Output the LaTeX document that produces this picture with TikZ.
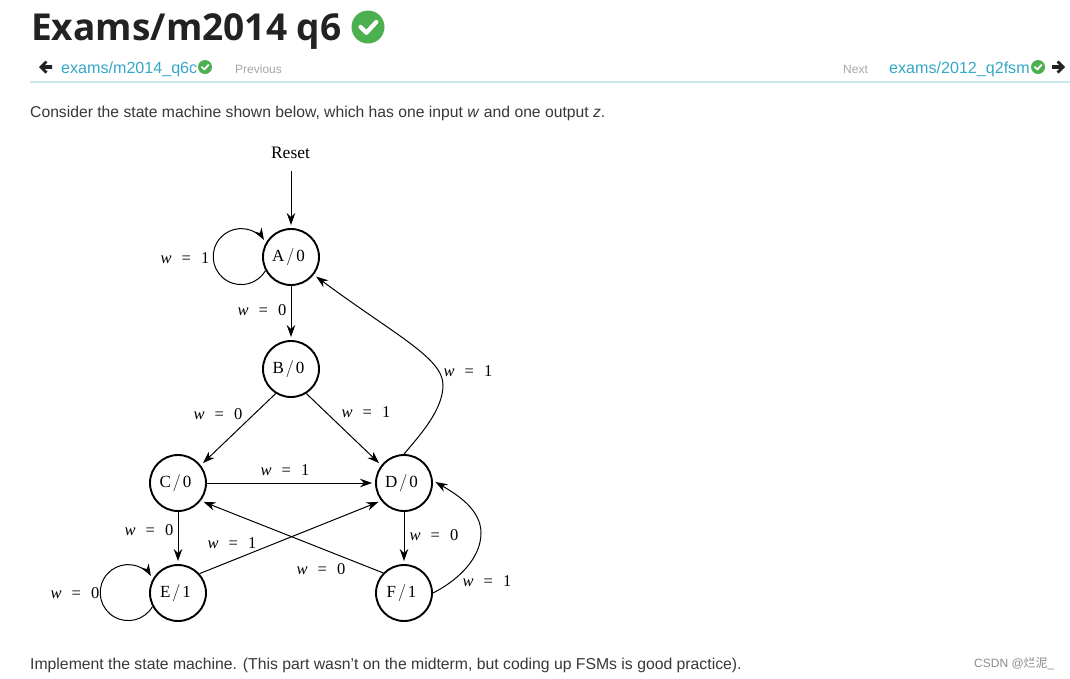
\documentclass[tikz,border=0pt]{standalone}
\usepackage{fontspec}
\usepackage{tikz}
\usetikzlibrary{arrows.meta}
\setmainfont{Liberation Sans}
\newfontfamily\titlefont{Open Sans}
\newfontfamily\figfont{Liberation Serif}
\newfontfamily\cjkfont{Noto Sans CJK SC}
\definecolor{linkblue}{HTML}{35A7C9}
\definecolor{okgreen}{HTML}{4CAF50}
\definecolor{ruleblue}{HTML}{C5E8F0}
\definecolor{inkdark}{HTML}{222222}
\newcommand{\wlab}[1]{\textit{w}\hspace{10pt}=\hspace{10pt}#1}
\begin{document}
\begin{tikzpicture}[x=1pt,y=-1pt,
    state/.style={circle,draw=black,line width=1.9pt,minimum size=56pt,inner sep=0pt,font=\figfont\fontsize{17}{18}\selectfont},
    lbl/.style={inner sep=0pt,font=\figfont\fontsize{16.5}{18}\selectfont},
    edge/.style={draw=black,line width=1pt,-{Stealth[length=12pt,width=8.5pt]},shorten >=3pt},
    body/.style={anchor=base west,inner sep=0pt,font=\fontsize{15.7}{18}\selectfont,text=inkdark!90},
    nav/.style={anchor=base west,inner sep=0pt,font=\fontsize{16.1}{18}\selectfont,text=linkblue},
    faint/.style={anchor=base west,inner sep=0pt,font=\fontsize{12}{14}\selectfont,text=black!35}]
  \useasboundingbox (0,0) rectangle (1070,678);
  \fill[white] (0,0) rectangle (1070,678);
  % page header
  \node[anchor=base west,inner sep=0pt,font=\titlefont\bfseries\fontsize{37.1}{40}\selectfont,text=inkdark] (title) at (31,40) {Exams/m2014 q6};
  \node[nav] (prevlink) at (61,73) {exams/m2014\_q6c};
  \node[faint] (prevword) at (235,73) {Previous};
  \node[faint] (nextword) at (843,73) {Next};
  \node[nav] (nextlink) at (889,73) {exams/2012\_q2fsm};
  \draw[ruleblue,line width=1.5pt] (30,82) -- (1070,82);
  \foreach \bx/\by/\br in {368/27/16.5, 205/67/7, 1038/67/7} {
    \fill[okgreen] (\bx,\by) circle (\br);
    \draw[white,line width=0.26*\br pt,line cap=round,line join=round]
      (\bx-0.45*\br,\by) -- (\bx-0.1*\br,\by+0.35*\br) -- (\bx+0.5*\br,\by-0.3*\br);
  }
  \foreach \ax/\dir in {46/-1, 1058/1} {
    \fill[inkdark] (\ax+\dir*7,67) -- (\ax+\dir*0.5,60.5) -- (\ax-\dir*1.5,62.5) -- (\ax+\dir*1.5,65.2)
      -- (\ax-\dir*6,65.2) -- (\ax-\dir*6,68.8) -- (\ax+\dir*1.5,68.8) -- (\ax-\dir*1.5,71.5) -- (\ax+\dir*0.5,73.5) -- cycle;
  }
  \node[body] (intro) at (30,117) {Consider the state machine shown below, which has one input \textit{w} and one output \textit{z}.};
  \node[body,font=\fontsize{15.77}{18}\selectfont] (outro) at (30,669) {Implement the state machine. (This part wasn't on the midterm, but coding up FSMs is good practice).};
  \node[anchor=base west,inner sep=0pt,font=\fontsize{12}{14}\selectfont,text=black!45] (mark) at (974,667) {CSDN @{\cjkfont 烂泥}\_};
  % states
  \foreach \n/\t/\px/\py in {A/0/291/257, B/0/291/369, C/0/178/483, D/0/404/483, E/1/178/593, F/1/404/593} {
    \node[state] (\n) at (\px,\py) {\n\hspace{2pt}$/$\hspace{2pt}\t\kern5pt\relax};
  }
  \node[inner sep=0pt,font=\figfont\fontsize{17.5}{18}\selectfont] (reset) at (290.5,152.5) {Reset};
  \coordinate (resetin) at (291,171);
  \coordinate (bendD) at (443,385);
  \coordinate (bendF) at (481,533);
  % transitions
  \draw[edge] (resetin) -- (A);
  \draw[edge] (A) -- (B);
  \draw[edge] (B.238) -- (C.38);
  \draw[edge] (B.302) -- (D.142);
  \draw[edge] (C) -- (D);
  \draw[edge] (C) -- (E);
  \draw[edge] (D) -- (F);
  \draw[edge] (E.42) -- (D.218);
  \draw[edge] (F.136) -- (C.-38);
  \draw[edge] (A.208) arc[start angle=-30,delta angle=-300,radius=28pt];
  \draw[edge] (E.208) arc[start angle=-30,delta angle=-300,radius=28pt];
  \draw[edge] (D.90) .. controls (420,435) and (443,410) .. (bendD) .. controls (443,358) and (395,335) .. (A.-38);
  \draw[edge] (F.0) .. controls (455,582) and (481,560) .. (bendF) .. controls (481,510) and (458,495) .. (D.5);
  % labels
  \foreach \n/\v/\px/\py in {lAA/1/185/258, lAB/0/262/310, lDA/1/468/371, lBC/0/218/414, lBD/1/366/412,
      lCD/1/285/470, lCE/0/149/530, lDF/0/434/535, lED/1/232/543, lFC/0/321/569, lFD/1/487/581, lEE/0/75/593} {
    \node[lbl] (\n) at (\px,\py) {\wlab{\v}};
  }
\end{tikzpicture}
\end{document}
